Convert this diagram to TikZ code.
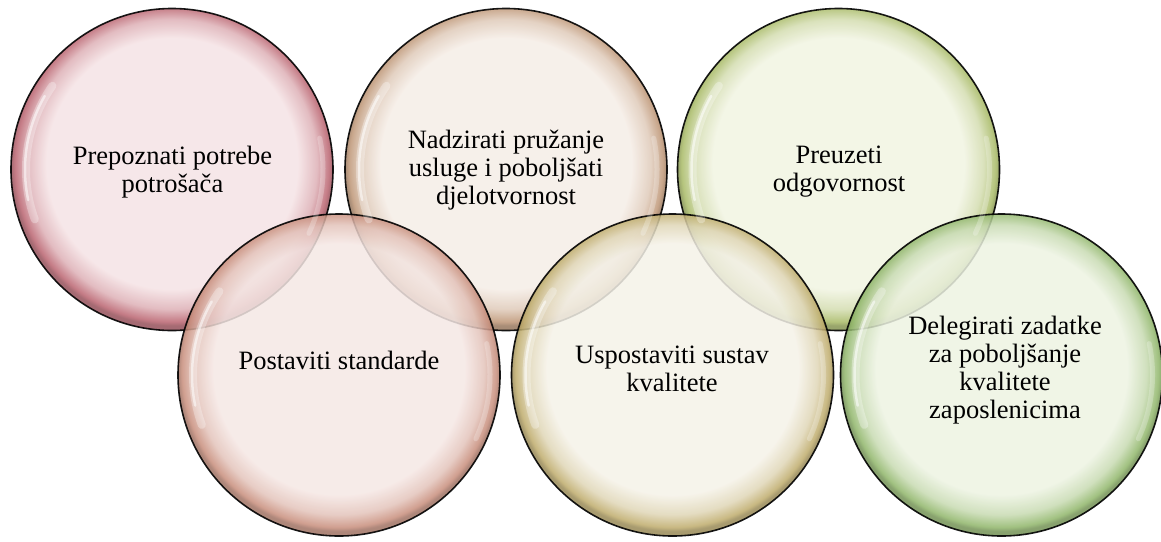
\documentclass[tikz,border=0pt]{standalone}
\usepackage{fontspec}
\setmainfont{Liberation Serif}
\colorlet{rimc}{red}
\colorlet{midc}{white}
\pgfdeclareradialshading[rimc,midc]{ball}{\pgfpoint{0bp}{1.5bp}}{%
  color(0bp)=(midc); color(19.5bp)=(midc); color(22.5bp)=(rimc!40!midc);
  color(24.4bp)=(rimc); color(25bp)=(rimc!80!black); color(50bp)=(rimc!80!black)}
\definecolor{rimA}{HTML}{BA6470}\definecolor{midA}{HTML}{F5E3E5}
\definecolor{rimB}{HTML}{BE9676}\definecolor{midB}{HTML}{F5EDE6}
\definecolor{rimC}{HTML}{A8BA66}\definecolor{midC}{HTML}{F1F4E2}
\definecolor{rimD}{HTML}{C88E7C}\definecolor{midD}{HTML}{F5E7E4}
\definecolor{rimE}{HTML}{BFAC6C}\definecolor{midE}{HTML}{F5F2E8}
\definecolor{rimF}{HTML}{90B66A}\definecolor{midF}{HTML}{EDF3E2}
\tikzset{
  ball/.style 2 args={circle, minimum size=322pt, inner sep=0pt,
    /utils/exec={\colorlet{rimc}{#1}\colorlet{midc}{#2}},
    shading=ball, draw=black, line width=1.6pt, fill opacity=0.85, draw opacity=0.9},
  lbl/.style={align=center, inner sep=0pt, font=\fontsize{26.5}{28}\selectfont},
  hlwide/.style={white, line width=8pt, opacity=0.3, line cap=round},
  hlthin/.style={white, line width=2.5pt, opacity=0.55, line cap=round},
  hlfaint/.style={white, line width=5pt, opacity=0.25, line cap=round},
}
\newcommand\glint[1]{%
  \draw[hlwide] ([shift={(145:146pt)}]#1.center) arc[start angle=145, end angle=200, radius=146pt];
  \draw[hlthin] ([shift={(150:147pt)}]#1.center) arc[start angle=150, end angle=192, radius=147pt];
  \draw[hlfaint] ([shift={(-25:151pt)}]#1.center) arc[start angle=-25, end angle=12, radius=151pt];
}
\begin{document}
\begin{tikzpicture}[x=1pt, y=-1pt]
\useasboundingbox (0,0) rectangle (1161,541);
\node[ball={rimA}{midA}] (c1) at (172,169.5) {};
\node[ball={rimB}{midB}] (c2) at (506,169.5) {};
\node[ball={rimC}{midC}] (c3) at (838.5,169.5) {};
\node[ball={rimD}{midD}] (c4) at (339,375) {};
\node[ball={rimE}{midE}] (c5) at (672.5,375) {};
\node[ball={rimF}{midF}] (c6) at (1001.5,375) {};
\glint{c1}\glint{c2}\glint{c3}\glint{c4}\glint{c5}\glint{c6}
\node[lbl] (t1) at (172.5,172) {Prepoznati potrebe\\potrošača};
\node[lbl] (t2) at (506,170) {Nadzirati pružanje\\usluge i poboljšati\\djelotvornost};
\node[lbl] (t3) at (839,172) {Preuzeti\\odgovornost};
\node[lbl] (t4) at (339,360) {Postaviti standarde};
\node[lbl] (t5) at (672,369) {Uspostaviti sustav\\kvalitete};
\node[lbl] (t6) at (1005,370.5) {Delegirati zadatke\\za poboljšanje\\kvalitete\\zaposlenicima};
\end{tikzpicture}
\end{document}
